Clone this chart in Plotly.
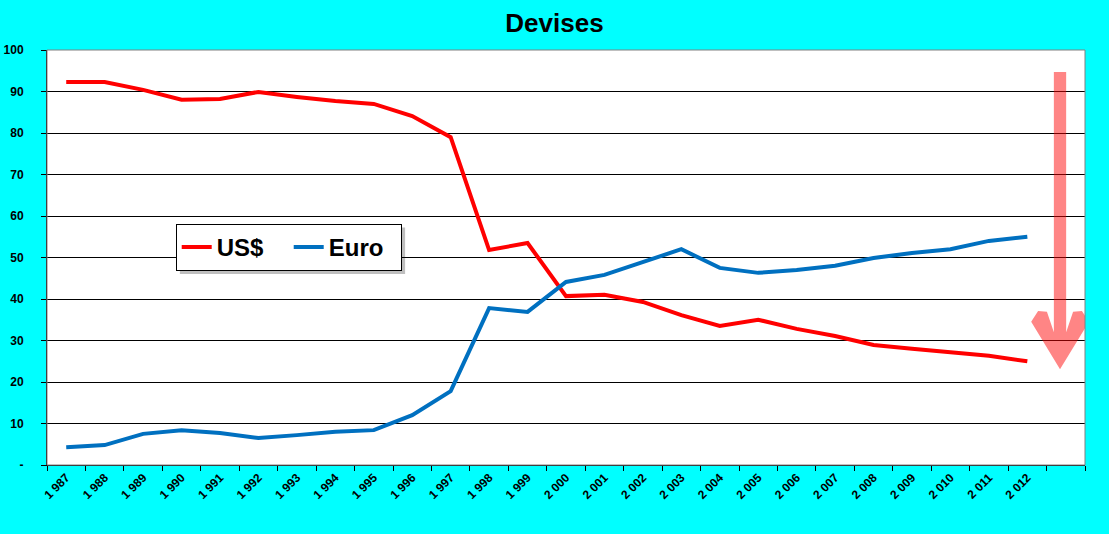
import plotly.graph_objects as go

# Données
years = ["1 987", "1 988", "1 989", "1 990", "1 991", "1 992", "1 993", "1 994",
         "1 995", "1 996", "1 997", "1 998", "1 999", "2 000", "2 001", "2 002",
         "2 003", "2 004", "2 005", "2 006", "2 007", "2 008", "2 009", "2 010",
         "2 011", "2 012"]
usd = [92.3, 92.3, 90.4, 88.0, 88.2, 89.9, 88.7, 87.7, 87.0, 84.1, 79.0, 51.8,
       53.5, 40.7, 41.0, 39.3, 36.1, 33.5, 35.0, 32.8, 31.1, 28.9, 28.0, 27.2,
       26.3, 25.0]
euro = [4.3, 4.8, 7.5, 8.4, 7.7, 6.5, 7.2, 8.0, 8.4, 12.0, 17.8, 37.8, 36.9,
        44.1, 45.8, 48.9, 52.0, 47.5, 46.3, 47.0, 48.0, 49.9, 51.1, 52.0, 54.0,
        55.0]
categories = years + [" "]  # case vide pour la flèche
y_ticks = [0, 10, 20, 30, 40, 50, 60, 70, 80, 90, 100]
y_labels = ["-"] + [str(v) for v in y_ticks[1:]]

font = "Arial, Liberation Sans, sans-serif"

fig = go.Figure()
fig.add_trace(go.Scatter(x=years, y=usd, name="<b>US$</b>", mode="lines",
                         line=dict(color="#FF0000", width=4)))
fig.add_trace(go.Scatter(x=years, y=euro, name="<b>Euro</b>", mode="lines",
                         line=dict(color="#0070C0", width=4)))

# flèche descendante (rouge transparent), contour en coordonnées du graphique
cx = 25.85   # centre de la flèche (index de catégorie)
outline = [(0, 23.1), (-0.75, 34.5), (-0.57, 37.1), (-0.34, 36.9), (-0.16, 32.0),
           (-0.16, 94.7), (0.16, 94.7), (0.16, 32.0), (0.34, 36.9), (0.57, 37.1),
           (0.75, 34.5)]
path = "M " + " L ".join(f"{cx + dx:.3f},{y}" for dx, y in outline) + " Z"
fig.add_shape(type="path", path=path, xref="x", yref="y",
              fillcolor="rgba(255,0,0,0.48)", line=dict(width=0))

# ombre de la légende
fig.add_shape(type="rect", xref="paper", yref="paper", x0=0.128, x1=0.345,
              y0=0.460, y1=0.572, fillcolor="rgba(0,0,0,0.25)", line=dict(width=0),
              layer="below")
# cadre gris de la zone de tracé
fig.add_shape(type="rect", xref="paper", yref="paper", x0=0, x1=1, y0=0, y1=1,
              line=dict(color="#808080", width=1))

fig.update_layout(
    width=1109, height=534,
    paper_bgcolor="#00FFFF", plot_bgcolor="white",
    margin=dict(l=47, r=24, t=50, b=69),
    title=dict(text="<b>Devises</b>", x=0.5, xanchor="center", y=0.957,
               yanchor="middle",
               font=dict(family=font, size=26, color="black")),
    font=dict(family=font, color="black"),
    showlegend=True,
    legend=dict(orientation="h", x=0.124, y=0.581, xanchor="left", yanchor="top",
                bgcolor="white", bordercolor="black", borderwidth=1,
                font=dict(family=font, size=24, color="black"),
                entrywidth=67, itemwidth=30, tracegroupgap=0),
    xaxis=dict(type="category", categoryorder="array", categoryarray=categories,
               range=[-0.5, 26.5], tickson="boundaries", ticks="outside",
               ticklen=5, tickcolor="black", showgrid=False, showline=True,
               linecolor="black", linewidth=1, tickangle=-45, automargin=False,
               tickfont=dict(family=font, size=12, color="black", weight="bold"),
               zeroline=False),
    yaxis=dict(range=[0, 100], tickvals=y_ticks, ticktext=y_labels,
               ticks="outside", ticklen=5, tickcolor="black", showgrid=True,
               gridcolor="black", gridwidth=1, showline=True, linecolor="black",
               linewidth=1, zeroline=False, ticklabelstandoff=15, automargin=False,
               tickfont=dict(family=font, size=12, color="black", weight="bold")),
)

fig.write_html("out.html", config={"displayModeBar": False},
               post_script="document.body.style.margin='0';")
